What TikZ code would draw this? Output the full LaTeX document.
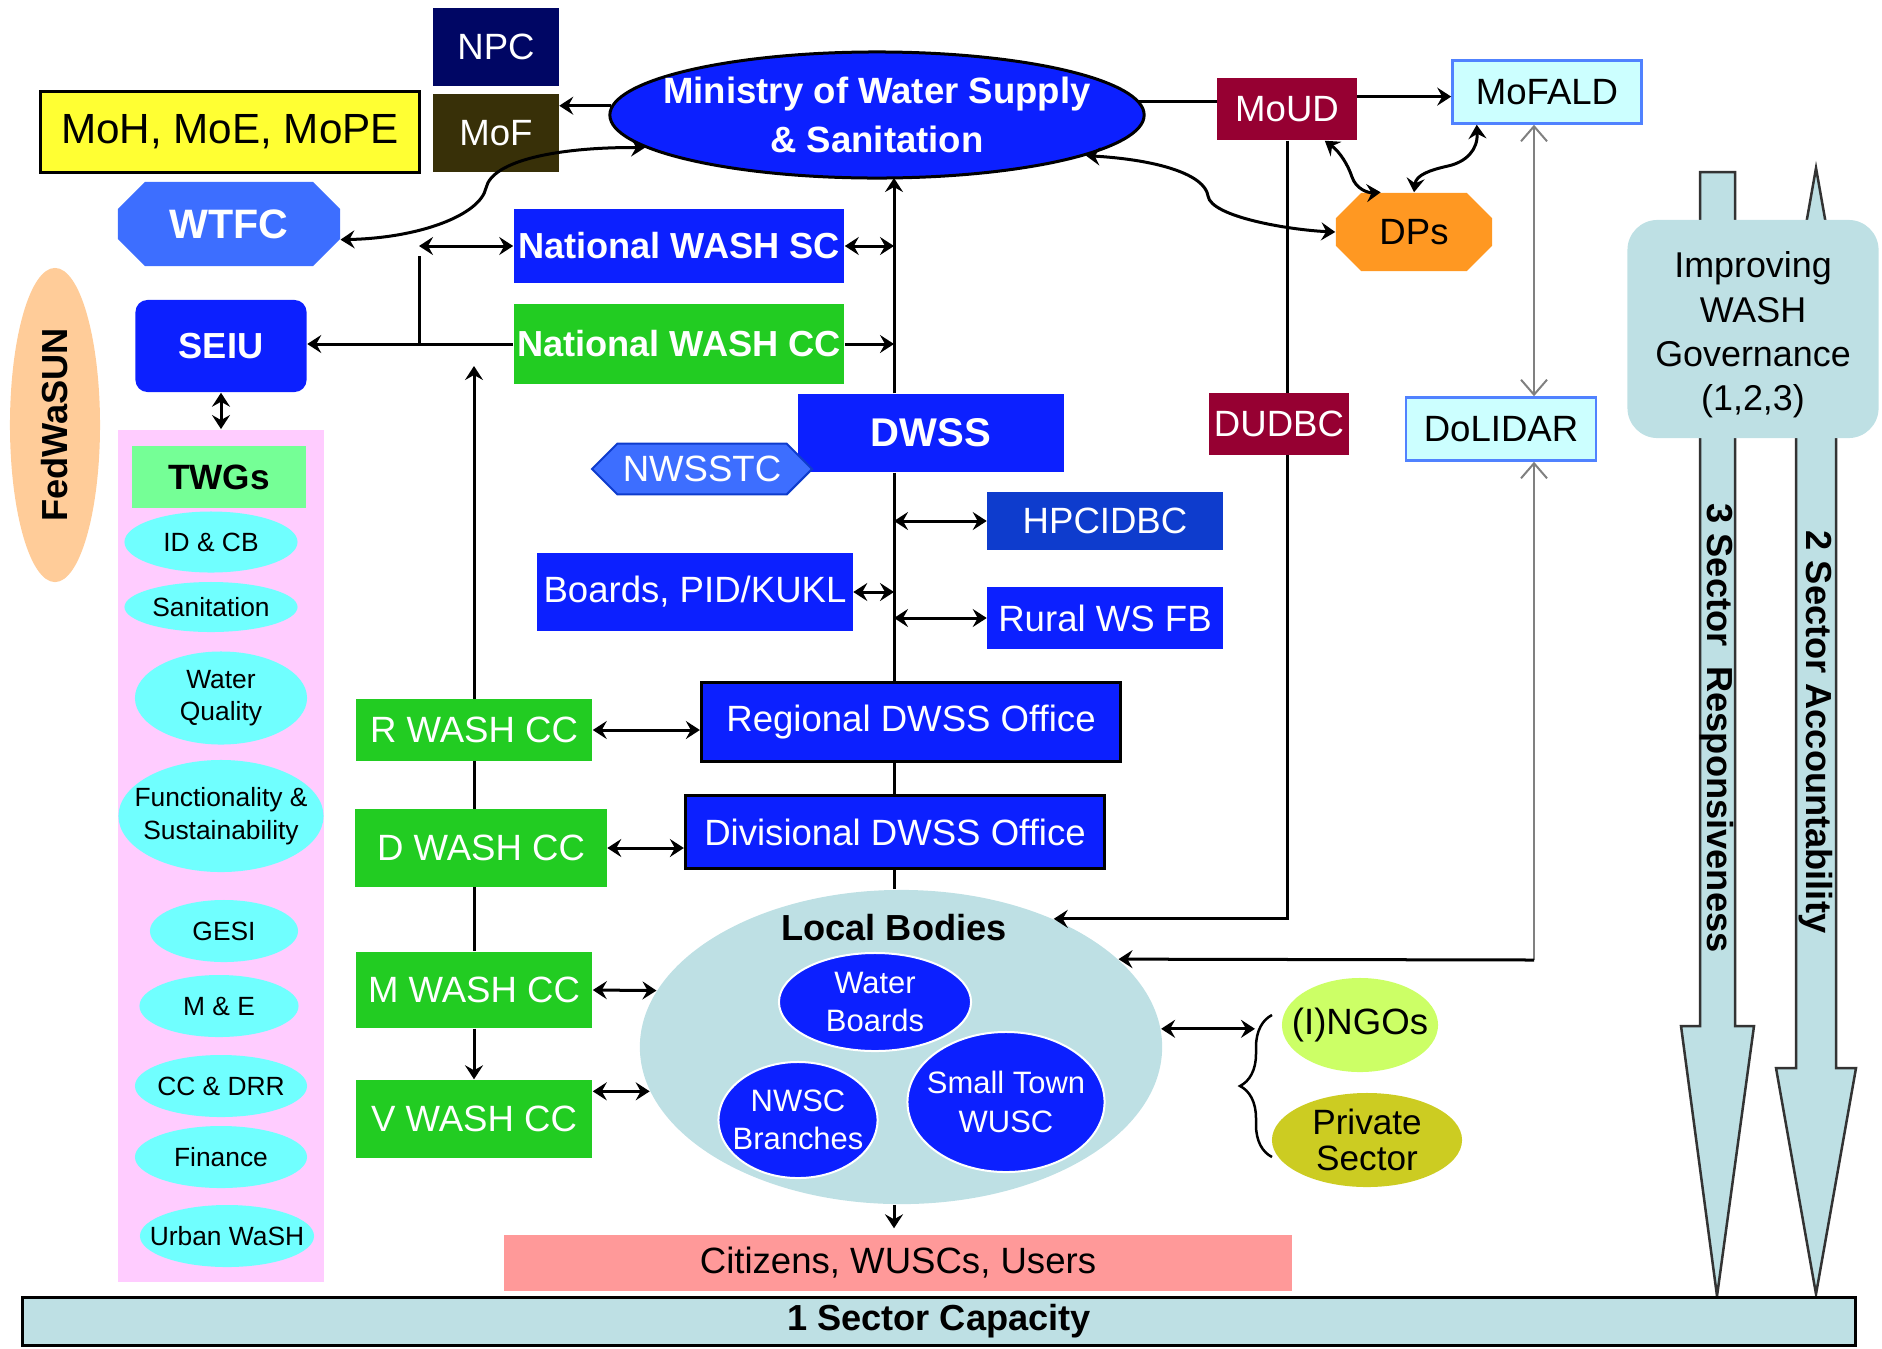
\documentclass[tikz,border=0pt]{standalone}
\usepackage{fontspec}
\setmainfont{Liberation Sans}
\usetikzlibrary{shapes.geometric, shapes.misc, arrows.meta, positioning, calc, decorations.pathreplacing}
\definecolor{wsblue}{RGB}{12,32,255}
\definecolor{wsdeep}{RGB}{14,60,205}
\definecolor{wsmid}{RGB}{61,110,255}
\definecolor{wsgreen}{RGB}{34,204,34}
\definecolor{wsnavy}{RGB}{0,6,100}
\definecolor{wsolive}{RGB}{56,48,8}
\definecolor{wsyellow}{RGB}{255,255,51}
\definecolor{wsred}{RGB}{150,0,50}
\definecolor{wspale}{RGB}{204,255,255}
\definecolor{wsframe}{RGB}{80,130,255}
\definecolor{wsorange}{RGB}{255,152,34}
\definecolor{wspink}{RGB}{255,204,255}
\definecolor{wstwg}{RGB}{117,255,150}
\definecolor{wscyan}{RGB}{112,255,255}
\definecolor{wspeach}{RGB}{255,204,153}
\definecolor{wsgrey}{RGB}{190,224,228}
\definecolor{wssalmon}{RGB}{255,153,153}
\definecolor{wslime}{RGB}{204,255,102}
\definecolor{wsmustard}{RGB}{204,204,34}

\begin{document}
\begin{tikzpicture}[x=0.01cm, y=-0.01cm, >={Stealth[length=1.4mm,width=1.8mm,inset=0.5mm]}]
    \tikzstyle{txt} = [font=\fontsize{10.4}{12.5}\selectfont]
    \tikzstyle{heavy} = [font=\fontsize{10.3}{13}\selectfont\bfseries]
    \tikzstyle{plain} = [rectangle, inner sep=0pt, txt]
    \tikzstyle{box} = [plain, text=white]
    \tikzstyle{lgbox} = [plain, fill=wspale, draw=wsframe, line width=0.25mm]
    \tikzstyle{octo} = [chamfered rectangle, chamfered rectangle xsep=2.4mm, inner sep=0pt]
    \tikzstyle{oval} = [ellipse, inner sep=0pt]
    \tikzstyle{twg} = [oval, fill=wscyan]
    \tikzstyle{twgtxt} = [align=center, font=\fontsize{7.5}{9.2}\selectfont]
    \tikzstyle{lb} = [oval, fill=wsblue, draw=white, line width=0.2mm]
    \tikzstyle{lbtxt} = [text=white, align=center, font=\fontsize{8.8}{10.9}\selectfont]
    \tikzstyle{edge} = [draw, line width=0.3mm]
    \tikzstyle{gline} = [draw, gray, line width=0.2mm]
    \tikzstyle{bigarrow} = [fill=wsgrey, draw=black!80, line width=0.25mm]

    \useasboundingbox (0,0) rectangle (1882,1348);

    \node[box, fill=wsnavy, minimum width=1.25cm, minimum height=0.78cm] (npc) at (496,47) {NPC};
    \node[box, fill=wsolive, minimum width=1.25cm, minimum height=0.78cm] (mof) at (496,133) {MoF};
    \node[plain, fill=wsyellow, draw=black, line width=0.3mm, minimum width=3.79cm, minimum height=0.8cm, font=\fontsize{12}{14}\selectfont] (moh) at (230,132) {MoH, MoE, MoPE};
    \node[oval, fill=wsblue, draw=black, line width=0.3mm, minimum width=5.34cm, minimum height=1.26cm, label={[text=white, align=center, font=\fontsize{10.4}{14}\selectfont\bfseries]center:{Ministry of Water Supply\\\& Sanitation}}] (mowss) at (877,115) {};
    \node[octo, fill=wsmid, minimum width=2.22cm, minimum height=0.84cm, text=white, font=\fontsize{11.7}{13}\selectfont\bfseries] (wtfc) at (229,224) {WTFC};
    \node[box, fill=wsblue, rounded corners=1.2mm, minimum width=1.71cm, minimum height=0.92cm, heavy] (seiu) at (221,346) {SEIU};
    \node[oval, fill=wspeach, rotate=90, minimum width=3.14cm, minimum height=0.9cm, heavy] (fed) at (55,425) {FedWaSUN};

    \node[plain, fill=wspink, minimum width=2.05cm, minimum height=8.52cm] (twgbox) at (221,856) {};
    \node[plain, fill=wstwg, minimum width=1.74cm, minimum height=0.62cm, font=\fontsize{10}{12}\selectfont\bfseries] (twgs) at (219,477) {TWGs};
    \node[twg, minimum width=1.73cm, minimum height=0.61cm, label={[twgtxt]center:{ID \& CB}}] (idcb) at (211,542) {};
    \node[twg, minimum width=1.73cm, minimum height=0.5cm, label={[twgtxt]center:{Sanitation}}] (sanit) at (211,607) {};
    \node[twg, minimum width=1.72cm, minimum height=0.93cm, label={[twgtxt]center:{Water\\Quality}}] (wq) at (221,698) {};
    \node[twg, minimum width=2.05cm, minimum height=1.12cm, label={[twgtxt]center:{Functionality \&\\Sustainability}}] (func) at (221,816) {};
    \node[twg, minimum width=1.48cm, minimum height=0.62cm, label={[twgtxt]center:{GESI}}] (gesi) at (224,931) {};
    \node[twg, minimum width=1.59cm, minimum height=0.62cm, label={[twgtxt]center:{M \& E}}] (me) at (219,1006) {};
    \node[twg, minimum width=1.72cm, minimum height=0.62cm, label={[twgtxt]center:{CC \& DRR}}] (ccdrr) at (221,1086) {};
    \node[twg, minimum width=1.72cm, minimum height=0.62cm, label={[twgtxt]center:{Finance}}] (fin) at (221,1157) {};
    \node[twg, minimum width=1.74cm, minimum height=0.62cm, label={[twgtxt]center:{Urban WaSH}}] (urban) at (227,1236) {};

    \node[box, fill=wsblue, heavy, minimum width=3.3cm, minimum height=0.74cm] (nsc) at (679,246) {National WASH SC};
    \node[box, fill=wsgreen, heavy, minimum width=3.3cm, minimum height=0.8cm] (ncc) at (679,344) {National WASH CC};
    \node[box, fill=wsblue, minimum width=2.66cm, minimum height=0.78cm, font=\fontsize{11.4}{13}\selectfont\bfseries] (dwss) at (931,433) {DWSS};
    \node[octo, fill=wsmid, draw=wsdeep, line width=0.2mm, chamfered rectangle xsep=1.3mm, minimum width=2.2cm, minimum height=0.46cm, text=white, txt] (nwsstc) at (702,469) {NWSSTC};
    \node[box, fill=wsdeep, minimum width=2.35cm, minimum height=0.57cm] (hpc) at (1105,521) {HPCIDBC};
    \node[box, fill=wsblue, minimum width=2.35cm, minimum height=0.61cm] (rural) at (1105,618) {Rural WS FB};
    \node[box, fill=wsblue, minimum width=3.15cm, minimum height=0.77cm] (kukl) at (695,592) {Boards, PID/KUKL};
    \node[box, fill=wsblue, draw=black, line width=0.3mm, minimum width=4.19cm, minimum height=0.78cm] (rdo) at (911,722) {Regional DWSS Office};
    \node[box, fill=wsblue, draw=black, line width=0.3mm, minimum width=4.19cm, minimum height=0.73cm] (ddo) at (895,832) {Divisional DWSS Office};
    \node[box, fill=wsgreen, minimum width=2.36cm, minimum height=0.61cm] (rwcc) at (474,730) {R WASH CC};
    \node[box, fill=wsgreen, minimum width=2.51cm, minimum height=0.77cm] (dwcc) at (481,848) {D WASH CC};
    \node[box, fill=wsgreen, minimum width=2.36cm, minimum height=0.76cm] (mwcc) at (474,990) {M WASH CC};
    \node[box, fill=wsgreen, minimum width=2.36cm, minimum height=0.78cm] (vwcc) at (474,1119) {V WASH CC};

    \node[oval, fill=wsgrey, minimum width=5.22cm, minimum height=3.14cm] (local) at (901,1047) {};
    \node[heavy] (localtxt) at (894,928) {Local Bodies};
    \node[lb, minimum width=1.92cm, minimum height=0.98cm, label={[lbtxt]center:{Water\\Boards}}] (wboards) at (875,1002) {};
    \node[lb, minimum width=1.59cm, minimum height=1.16cm, label={[lbtxt]center:{NWSC\\Branches}}] (nwscb) at (798,1120) {};
    \node[lb, minimum width=1.97cm, minimum height=1.4cm, label={[lbtxt]center:{Small Town\\WUSC}}] (stwusc) at (1006,1102) {};
    \node[plain, fill=wssalmon, minimum width=7.88cm, minimum height=0.56cm] (cit) at (898,1263) {Citizens, WUSCs, Users};

    \node[box, fill=wsred, minimum width=1.39cm, minimum height=0.62cm] (moud) at (1287,109) {MoUD};
    \node[lgbox, minimum width=1.89cm, minimum height=0.63cm] (mofald) at (1547,92) {MoFALD};
    \node[octo, fill=wsorange, chamfered rectangle xsep=2.2mm, minimum width=1.56cm, minimum height=0.78cm, txt] (dps) at (1414,232) {DPs};
    \node[box, fill=wsred, minimum width=1.39cm, minimum height=0.61cm] (dudbc) at (1279,424) {DUDBC};
    \node[lgbox, minimum width=1.9cm, minimum height=0.63cm] (dolidar) at (1501,429) {DoLIDAR};
    \node[oval, fill=wslime, minimum width=1.56cm, minimum height=0.94cm, label={[txt]center:{(I)NGOs}}] (ngo) at (1360,1025) {};
    \node[oval, fill=wsmustard, minimum width=1.9cm, minimum height=0.94cm, label={[align=center, font=\fontsize{10}{10.2}\selectfont]center:{Private\\Sector}}] (priv) at (1367,1140) {};

    \filldraw[bigarrow] (1700,172) -- (1735,172) -- (1735,1026) -- (1754,1026) -- (1717,1296) -- (1681,1026) -- (1700,1026) -- cycle;
    \filldraw[bigarrow] (1816,168) -- (1856,394) -- (1836,394) -- (1836,1068) -- (1856,1068) -- (1816,1294) -- (1776,1068) -- (1796,1068) -- (1796,394) -- (1776,394) -- cycle;
    \node[heavy, rotate=-90] (resp) at (1717,728) {3 Sector\ \ Responsiveness};
    \node[heavy, rotate=-90] (acc) at (1816,732) {2 Sector Accountability};
    \node[plain, fill=wsgrey, rounded corners=3mm, minimum width=2.51cm, minimum height=2.18cm, label={[align=center, yshift=-0.6mm, font=\fontsize{10.2}{12.6}\selectfont]center:{Improving\\WASH\\Governance\\(1,2,3)}}] (gov) at (1753,329) {};
    \node[plain, fill=wsgrey, draw=black, line width=0.3mm, minimum width=18.31cm, minimum height=0.48cm, heavy] (cap) at (939,1321) {1 Sector Capacity};

    \coordinate (sp) at (894,178);
    \coordinate (scj) at (419,256);
    \coordinate (wtop) at (474,366);
    \coordinate (dlc) at (1534,960);
    \coordinate (brin) at (1255,1030);

    \draw[edge, ->] (mowss.178) -- (mowss.178 -| mof.east);
    \draw[edge, <->] (wtfc.-8) .. controls (420,238) and (480,215) .. (486,188) .. controls (492,160) and (560,147) .. (mowss.188);
    \draw[edge] (mowss.3) -- (mowss.3 -| moud.west);
    \draw[edge, ->] (moud.10) -- (moud.10 -| mofald.west);
    \draw[edge, <->] (mowss.-11) .. controls (1160,160) and (1205,175) .. (1208,196) .. controls (1211,217) and (1290,230) .. (dps.west);
    \draw[edge, <->] (moud.-40) .. controls (1340,152) and (1348,165) .. (1352,177) .. controls (1356,189) and (1368,193) .. (dps.130);
    \draw[edge, <->] (dps.90) .. controls (1416,175) and (1430,170) .. (1448,166) .. controls (1466,162) and (1478,150) .. (mofald.205);

    \draw[edge, <->] (nsc.west) -- (nsc.west -| scj);
    \draw[edge] (scj) -- (scj |- ncc.west);
    \draw[edge, ->] (ncc.west) -- (ncc.west -| seiu.east);
    \draw[edge, <->] (seiu.south) -- (seiu.south |- twgbox.north);
    \draw[edge, <->] (nsc.east) -- (nsc.east -| sp);
    \draw[edge, ->] (ncc.east) -- (ncc.east -| sp);
    \draw[edge, ->] (dwss.north -| sp) -- (sp);
    \draw[edge] (dwss.south -| sp) -- (rdo.north -| sp);
    \draw[edge, <->] (hpc.west) -- (hpc.west -| sp);
    \draw[edge, <->] (rural.west) -- (rural.west -| sp);
    \draw[edge, <->] (kukl.east) -- (kukl.east -| sp);
    \draw[edge] (rdo.south -| sp) -- (ddo.north -| sp);
    \draw[edge] (ddo.south -| sp) -- (local.north -| sp);
    \draw[edge, ->] (local.south -| sp) -- ($(cit.north -| sp)+(0,-6)$);

    \draw[edge, ->] (rwcc.north) -- (wtop);
    \draw[edge] (rwcc.south) -- (rwcc.south |- dwcc.north);
    \draw[edge] (mwcc.north |- dwcc.south) -- (mwcc.north);
    \draw[edge, ->] (mwcc.south) -- (vwcc.north);
    \draw[edge, <->] (rwcc.east) -- (rwcc.east -| rdo.west);
    \draw[edge, <->] (dwcc.east) -- (dwcc.east -| ddo.west);
    \draw[edge, <->] (mwcc.east) -- (local.167);
    \draw[edge, <->] (local.190 -| vwcc.east) -- (local.190);

    \draw[edge] (moud.south) -- (moud.south |- dudbc.north);
    \draw[edge, ->] (dudbc.south -| moud.south) |- (local.40);
    \draw[gline, arrows={Straight Barb[length=1.5mm,width=2.6mm]-Straight Barb[length=1.5mm,width=2.6mm]}] (mofald.south -| dlc) -- (dolidar.north -| dlc);
    \draw[gline, arrows={Straight Barb[length=1.5mm,width=2.6mm]-}] (dolidar.south -| dlc) -- (dlc);
    \draw[edge, ->] (dlc) -- (local.22);
    \draw[edge, <->] (local.4) -- (local.4 -| brin);
    \draw[line width=0.25mm, decorate, decoration={brace, amplitude=3.2mm}] (1272,1157) -- (1272,1015);
\end{tikzpicture}
\end{document}
